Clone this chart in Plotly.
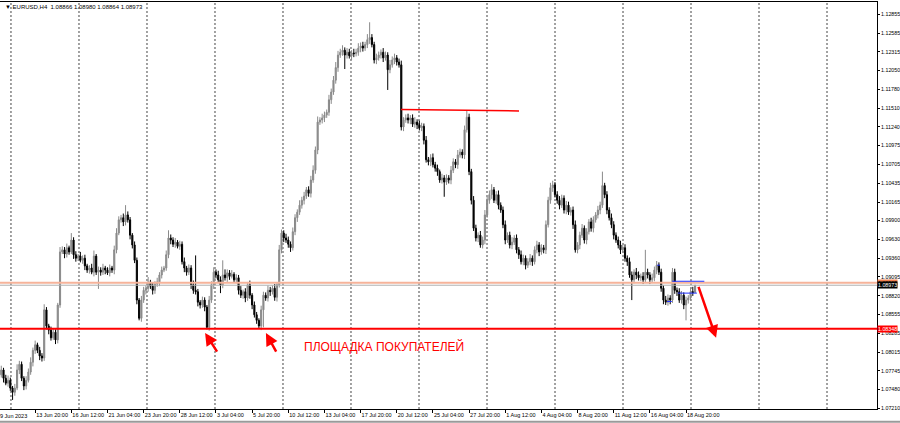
import plotly.graph_objects as go

# ---------------- data (EURUSD H4) ----------------
first_open = 1.0775
close_pips = [
    10769, 10776, 10764, 10757, 10761, 10750, 10744, 10750, 10776, 10784,
    10764, 10753, 10761, 10773, 10787, 10804, 10812, 10804, 10796, 10793,
    10862, 10839, 10833, 10822, 10830, 10819, 10869, 10945, 10948, 10942,
    10951, 10945, 10962, 10941, 10936, 10939, 10933, 10936, 10925, 10919,
    10922, 10916, 10939, 10916, 10919, 10916, 10922, 10919, 10915, 10922,
    10919, 10948, 10972, 10991, 10994, 10988, 10998, 10991, 10969, 10955,
    10933, 10876, 10850, 10876, 10890, 10893, 10902, 10896, 10890, 10899,
    10902, 10912, 10919, 10922, 10941, 10965, 10962, 10956, 10959, 10953,
    10956, 10931, 10922, 10916, 10922, 10898, 10890, 10888, 10873, 10869,
    10876, 10866, 10837, 10876, 10898, 10916, 10912, 10905, 10898, 10912,
    10908, 10915, 10910, 10913, 10905, 10908, 10890, 10883, 10888, 10879,
    10898, 10883, 10869, 10855, 10847, 10839, 10862, 10883, 10879, 10890,
    10888, 10893, 10880, 10898, 10948, 10972, 10965, 10962, 10956, 10951,
    10974, 10994, 11002, 11012, 11019, 11025, 11034, 11029, 11048, 11062,
    11091, 11131, 11134, 11137, 11141, 11145, 11163, 11174, 11191, 11209,
    11227, 11231, 11234, 11227, 11231, 11226, 11230, 11229, 11231, 11237,
    11240, 11237, 11242, 11249, 11252, 11242, 11220, 11223, 11227, 11231,
    11223, 11227, 11206, 11213, 11220, 11223, 11217, 11213, 11124, 11134,
    11137, 11134, 11137, 11128, 11131, 11127, 11123, 11125, 11105, 11077,
    11074, 11080, 11070, 11065, 11060, 11048, 11051, 11045, 11051, 11048,
    11062, 11074, 11070, 11084, 11088, 11084, 11120, 11138, 11060, 11019,
    10979, 10965, 10969, 10955, 10962, 10998, 11019, 11027, 11034, 11019,
    11027, 11012, 11005, 10984, 10962, 10969, 10955, 10959, 10965, 10948,
    10941, 10931, 10936, 10926, 10931, 10936, 10931, 10948, 10955, 10945,
    10951, 10948, 10984, 11019, 11037, 11041, 11027, 11019, 11012, 11022,
    11005, 11012, 11002, 11005, 10984, 10948, 10955, 10969, 10979, 10962,
    10974, 10988, 10979, 10991, 10998, 11005, 11012, 11040, 11027, 11005,
    10994, 10984, 10969, 10962, 10955, 10948, 10951, 10936, 10931, 10912,
    10905, 10916, 10912, 10908, 10910, 10905, 10916, 10912, 10905, 10908,
    10919, 10926, 10916, 10893, 10876, 10873, 10879, 10876, 10916, 10890,
    10888, 10876, 10883, 10869, 10876, 10879, 10888, 10887, 10897,
]
upper_wick_pips = [
    4, 6, 3, 5, 7, 4, 3, 6, 8, 5,
    4, 3, 6, 5, 7, 4, 6, 3, 5, 4,
    8, 4, 3, 5, 6, 4, 3, 7, 5, 4,
    6, 3, 10, 4, 5, 3, 6, 4, 5, 3,
    4, 6, 8, 3, 5, 4, 6, 3, 4, 5,
    3, 6, 7, 5, 4, 6, 14, 5, 4, 3,
    5, 4, 3, 6, 5, 4, 7, 3, 5, 4,
    6, 4, 5, 3, 6, 11, 5, 4, 6, 3,
    5, 4, 6, 3, 5, 4, 6, 50, 4, 3,
    5, 4, 3, 6, 5, 7, 4, 6, 5, 21,
    8, 5, 4, 6, 3, 5, 4, 6, 3, 5,
    4, 6, 3, 5, 4, 3, 6, 5, 4, 7,
    5, 4, 6, 3, 7, 5, 4, 6, 5, 4,
    6, 5, 4, 7, 5, 6, 4, 5, 6, 7,
    5, 8, 4, 6, 5, 4, 7, 5, 6, 8,
    6, 5, 7, 4, 6, 5, 4, 6, 5, 7,
    5, 6, 4, 8, 22, 5, 4, 6, 5, 4,
    6, 5, 4, 7, 5, 6, 4, 5, 6, 4,
    5, 6, 4, 5, 7, 4, 6, 5, 4, 6,
    4, 5, 6, 4, 5, 3, 6, 4, 5, 4,
    6, 5, 4, 7, 5, 4, 6, 10, 5, 4,
    6, 5, 4, 6, 5, 7, 5, 6, 8, 4,
    5, 6, 4, 5, 6, 4, 5, 7, 4, 5,
    4, 6, 5, 4, 5, 6, 4, 5, 6, 4,
    5, 4, 6, 5, 7, 6, 4, 5, 6, 5,
    4, 6, 5, 4, 5, 6, 4, 5, 6, 4,
    5, 4, 6, 5, 4, 6, 5, 20, 4, 5,
    4, 6, 5, 4, 5, 6, 4, 5, 4, 6,
    5, 4, 6, 5, 4, 6, 32, 5, 4, 6,
    5, 6, 4, 5, 4, 6, 5, 4, 6, 5,
    4, 5, 6, 4, 5, 4, 6, 7, 1,
]
lower_wick_pips = [
    5, 4, 6, 3, 5, 4, 11, 5, 3, 6,
    4, 6, 5, 3, 4, 6, 5, 4, 6, 5,
    4, 5, 6, 4, 3, 6, 5, 4, 3, 6,
    5, 4, 3, 6, 5, 4, 3, 5, 6, 4,
    5, 3, 6, 4, 24, 5, 4, 6, 3, 5,
    4, 6, 5, 3, 4, 6, 5, 4, 6, 5,
    4, 6, 3, 5, 4, 6, 5, 4, 6, 5,
    4, 6, 5, 3, 4, 5, 6, 4, 5, 3,
    5, 4, 6, 5, 4, 6, 5, 4, 6, 5,
    4, 6, 3, 5, 4, 6, 5, 4, 12, 5,
    4, 6, 5, 3, 4, 5, 6, 4, 5, 6,
    4, 5, 6, 4, 5, 3, 6, 25, 4, 5,
    6, 4, 5, 6, 4, 5, 6, 4, 5, 6,
    4, 5, 6, 4, 5, 6, 4, 5, 6, 4,
    5, 6, 4, 5, 6, 4, 5, 6, 4, 5,
    6, 4, 5, 20, 5, 4, 6, 5, 4, 5,
    6, 5, 4, 5, 6, 4, 5, 6, 4, 5,
    6, 4, 29, 5, 4, 6, 5, 4, 5, 6,
    4, 5, 6, 4, 5, 6, 4, 5, 6, 4,
    5, 6, 4, 5, 6, 4, 5, 21, 4, 5,
    6, 4, 5, 6, 4, 5, 6, 4, 5, 6,
    4, 5, 6, 4, 5, 6, 4, 5, 6, 4,
    5, 6, 4, 5, 6, 4, 5, 6, 4, 5,
    6, 4, 5, 6, 4, 5, 6, 4, 5, 6,
    4, 5, 6, 4, 5, 6, 4, 5, 6, 4,
    5, 6, 4, 5, 6, 4, 5, 6, 4, 5,
    6, 4, 5, 6, 4, 5, 6, 4, 5, 6,
    4, 5, 6, 4, 5, 6, 4, 5, 6, 4,
    29, 5, 6, 4, 5, 6, 4, 5, 6, 4,
    5, 6, 4, 5, 6, 4, 5, 6, 4, 5,
    6, 4, 5, 6, 22, 5, 4, 5, 0,
]

x_tick_bars = [16, 32, 48, 64, 80, 96, 112, 128, 144, 160, 176, 192, 208, 224,
               240, 256, 272, 288, 304]
x_tick_labels = ["13 Jun 20:00", "16 Jun 12:00", "21 Jun 04:00", "23 Jun 20:00",
                 "28 Jun 12:00", "3 Jul 04:00", "5 Jul 20:00", "10 Jul 12:00",
                 "13 Jul 04:00", "17 Jul 20:00", "20 Jul 12:00", "25 Jul 04:00",
                 "27 Jul 20:00", "1 Aug 12:00", "4 Aug 04:00", "8 Aug 20:00",
                 "11 Aug 12:00", "16 Aug 04:00", "18 Aug 20:00"]
first_label = "9 Jun 2023"
y_tick_labels = ["1.12855", "1.12585", "1.12315", "1.12050", "1.11780", "1.11510",
                 "1.11240", "1.10975", "1.10705", "1.10435", "1.10165", "1.09900",
                 "1.09630", "1.09360", "1.09095", "1.08820", "1.08555", "1.08285",
                 "1.08015", "1.07745", "1.07480", "1.07210"]

bid_price = 1.08973
support_price = 1.08348
level_price = 1.0901
resistance_level = (1.11490, 1.11470)
resistance_bars = (177.9, 230.1)
title_text = "▼ EURUSD,H4  1.08866 1.08980 1.08864 1.08973"
zone_text = "ПЛОЩАДКА ПОКУПАТЕЛЕЙ"

# ---------------- build OHLC ----------------
closes = [c / 10000 for c in close_pips]
opens = [first_open] + closes[:-1]
highs = [max(o, c) + u / 10000 for o, c, u in zip(opens, closes, upper_wick_pips)]
lows = [min(o, c) - d / 10000 for o, c, d in zip(opens, closes, lower_wick_pips)]
bars = list(range(len(closes)))

fig = go.Figure()
fig.add_trace(go.Candlestick(
    x=bars, open=opens, high=highs, low=lows, close=closes,
    increasing=dict(line=dict(color="#8a8a8a", width=1), fillcolor="#8a8a8a"),
    decreasing=dict(line=dict(color="#000000", width=1), fillcolor="#000000"),
    whiskerwidth=0, showlegend=False, hoverinfo="skip",
))

FONT = "Liberation Sans"
shapes = []
# dotted vertical grid
for k in range(13):
    gx = 5.3 + 30.09 * k
    shapes.append(dict(type="line", xref="x", yref="paper", x0=gx, x1=gx, y0=0, y1=1,
                       line=dict(color="#444444", width=1, dash="2px,2px"), layer="below"))
# horizontal levels
shapes.append(dict(type="line", xref="paper", yref="y", x0=0, x1=1, y0=level_price, y1=level_price,
                   line=dict(color="#f6b39a", width=2)))
shapes.append(dict(type="line", xref="paper", yref="y", x0=0, x1=1, y0=bid_price, y1=bid_price,
                   line=dict(color="#b0b0b0", width=1)))
shapes.append(dict(type="line", xref="paper", yref="y", x0=0, x1=1, y0=support_price, y1=support_price,
                   line=dict(color="#ff0000", width=2)))
shapes.append(dict(type="line", xref="x", yref="y", x0=resistance_bars[0], x1=resistance_bars[1],
                   y0=resistance_level[0], y1=resistance_level[1],
                   line=dict(color="#ff0000", width=1.5)))
# small blue marks
for (b0, b1, p) in [(297.9, 312.1, 1.0903), (300.4, 308.8, 1.0886), (291.2, 292.5, 1.0926), (295.6, 297.7, 1.0874)]:
    shapes.append(dict(type="line", xref="x", yref="y", x0=b0, x1=b1, y0=p, y1=p,
                       line=dict(color="#2030ff", width=1)))
# bottom strip
shapes.append(dict(type="rect", xref="paper", yref="paper", x0=0, x1=1.03, y0=-0.034, y1=-0.029,
                   line=dict(width=0), fillcolor="#9a9a9a"))

annotations = []
# arrows (head = x,y ; tail = ax,ay)
for (hx, hy, tx, ty) in [(91.2, 1.0829, 96.9, 1.0800), (118.1, 1.0829, 123.0, 1.0800),
                         (317.3, 1.0822, 309.3, 1.0897)]:
    annotations.append(dict(x=hx, y=hy, ax=tx, ay=ty, xref="x", yref="y", axref="x", ayref="y",
                            showarrow=True, arrowhead=2, arrowsize=1, arrowwidth=2.5,
                            arrowcolor="#ff0000", text=""))
annotations.append(dict(x=134.1, y=1.0809, xref="x", yref="y", text=zone_text, showarrow=False,
                        xanchor="left", yanchor="middle", font=dict(family=FONT, size=12, color="#ff0000")))
annotations.append(dict(x=0.003, y=1.0, xref="paper", yref="paper", text=title_text, showarrow=False,
                        xanchor="left", yanchor="top", font=dict(family=FONT, size=6, color="#000000")))
annotations.append(dict(x=-0.002, y=-0.006, xref="paper", yref="paper", text=first_label, showarrow=False,
                        xanchor="left", yanchor="top", font=dict(family=FONT, size=5.5, color="#000000")))
# price labels on the right axis
for (p, txt, bg, fc) in [(level_price, "1.08905", "#f08050", "#000000"),
                         (bid_price, "1.08973", "#000000", "#ffffff"),
                         (support_price, "1.08348", "#ff0000", "#ffffff")]:
    annotations.append(dict(x=1.0, y=p, xref="paper", yref="y", text=txt, showarrow=False,
                            xanchor="left", yanchor="middle", bgcolor=bg, borderpad=0,
                            font=dict(family=FONT, size=5.3, color=fc)))

fig.update_layout(
    width=900, height=423,
    margin=dict(l=0, r=23, t=2, b=14, autoexpand=False),
    paper_bgcolor="#ffffff", plot_bgcolor="#ffffff",
    shapes=shapes, annotations=annotations,
    xaxis=dict(range=[0.44, 388.5], tickvals=x_tick_bars, ticktext=x_tick_labels,
               ticks="outside", ticklen=3, tickcolor="#000000", tickangle=0,
               ticklabelposition="outside right", automargin=False,
               tickfont=dict(family=FONT, size=5.5, color="#000000"),
               showgrid=False, zeroline=False, showline=True, linecolor="#000000",
               linewidth=1, mirror=True, rangeslider=dict(visible=False)),
    yaxis=dict(side="right", range=[1.0720, 1.1303], automargin=False,
               tickvals=[float(t) for t in y_tick_labels], ticktext=y_tick_labels,
               ticks="outside", ticklen=2, tickcolor="#000000",
               ticklabeloverflow="allow",
               tickfont=dict(family=FONT, size=5.3, color="#000000"),
               showgrid=False, zeroline=False, showline=True, linecolor="#000000", linewidth=1),
)

fig.write_html(
    "out.html",
    config={"displayModeBar": False},
    post_script="document.body.style.margin='0px';document.body.style.overflow='hidden';",
)
